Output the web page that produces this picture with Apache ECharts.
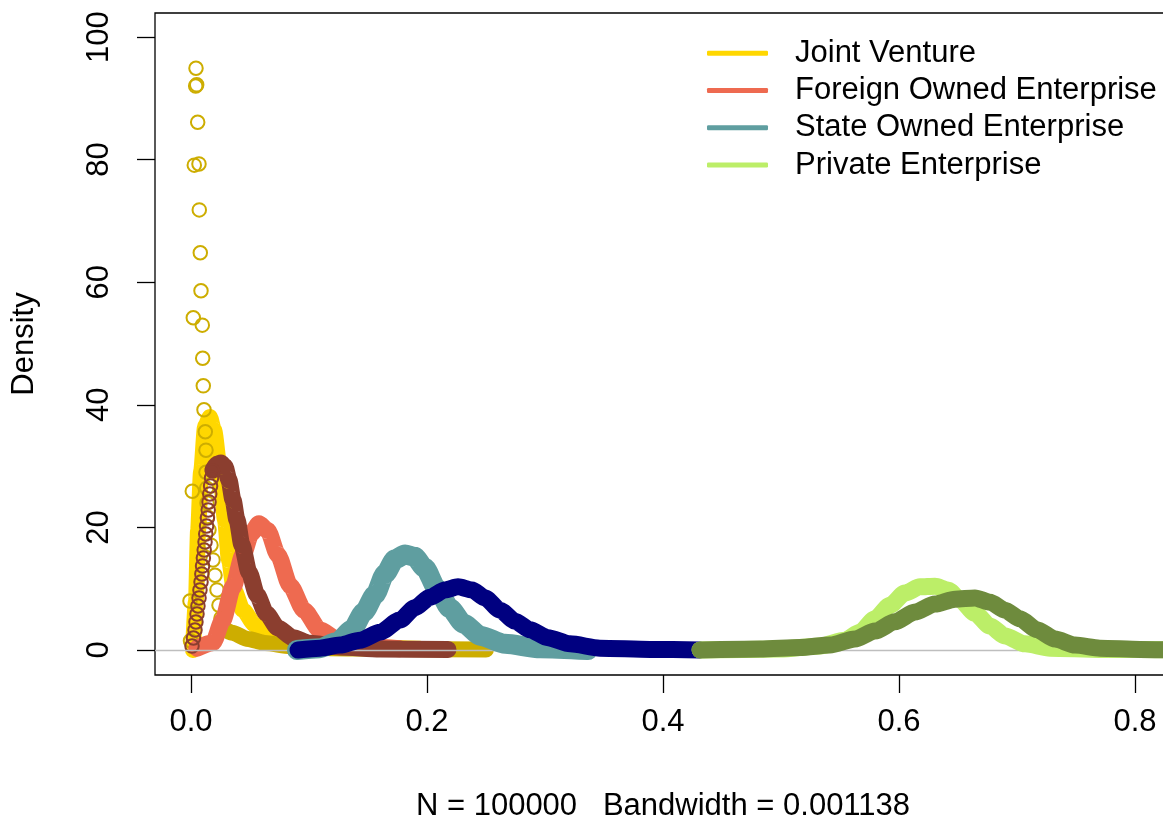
<!DOCTYPE html>
<html>
<head>
<meta charset="utf-8">
<script src="https://cdn.jsdelivr.net/npm/echarts@6/dist/echarts.min.js"></script>
<style>
html,body{margin:0;padding:0;background:#fff;}
#chart{width:1163px;height:819px;}
</style>
</head>
<body>
<div id="chart"></div>
<script>
// ---- data (x, density) ----
const xTicks = [0, 0.2, 0.4, 0.6, 0.8];
const yTicks = [0, 20, 40, 60, 80, 100];
const legendNames = ['Joint Venture', 'Foreign Owned Enterprise', 'State Owned Enterprise', 'Private Enterprise'];
const xLabel = 'N = 100000   Bandwidth = 0.001138';
const yLabel = 'Density';

const jointVenture = [[0.0017,0],[0.0042,8],[0.006,19.5],[0.0085,29],[0.012,36.5],[0.016,38],[0.0195,35.9],[0.0246,29.4],[0.0288,21.2],[0.0322,14.7],[0.0364,9.8],[0.0441,6.5],[0.0542,4.1],[0.0669,2.4],[0.0924,1.1],[0.135,0.5],[0.194,0.2]];
const jvPointsRings = [[0.00424,94.9],[0.00398,92.0],[0.00483,92.2],[0.00568,86.1],[0.0028,79.1],[0.00678,79.3],[0.00703,71.8],[0.00788,64.8],[0.00847,58.6],[0.00195,54.2],[0.00958,53.0],[0.00992,47.6],[0.01042,43.1],[0.01102,39.2],[0.01212,35.6],[0.01271,32.6],[0.01271,29.0],[0.0133,26.4],[0.0011,25.9],[0.01356,24.0],[0.01398,21.7],[0.01525,19.6],[0.01695,17.1],[0.01864,14.7],[0.02034,12.2],[0.02203,9.8],[0.02373,7.3],[0.02542,5.2],[-0.00085,8.0],[-0.00042,1.5]];
const jvPointsBand = [[0.0263,3.75],[0.0347,2.8],[0.0483,1.8],[0.0627,1.15],[0.0839,0.65],[0.118,0.3],[0.177,0.15],[0.25,0.08]];
const foreignOwned = [[0.005,0.3],[0.0186,1.2],[0.027,4.9],[0.0356,10.3],[0.044,15.5],[0.051,19.0],[0.0576,20.6],[0.065,19.5],[0.0737,15.5],[0.084,10.5],[0.0958,6.5],[0.109,3.3],[0.126,1.5],[0.152,0.5],[0.177,0.2]];
const foPointsRings = [[0.00085,0.65],[0.0021,1.96],[0.0034,3.26],[0.0042,4.57],[0.0051,5.87],[0.0059,7.18],[0.0068,8.48],[0.0076,9.79],[0.0085,11.09],[0.0092,12.4],[0.0098,13.7],[0.0105,15.01],[0.0112,16.31],[0.0119,17.62],[0.0125,18.92],[0.0132,20.23],[0.0139,21.53],[0.0146,22.84],[0.0153,24.14],[0.0159,25.45],[0.0166,26.75],[0.0174,28.06],[0.0182,29.2]];
const foPointsBand = [[0.0186,29.4],[0.022,30.3],[0.0254,30.5],[0.0288,29.9],[0.0322,27.7],[0.0356,24.5],[0.039,21.2],[0.0432,17.1],[0.0492,12.7],[0.0559,9.0],[0.0636,6.0],[0.0737,3.6],[0.0864,2.0],[0.1008,1.1],[0.1263,0.5],[0.1602,0.15],[0.2178,0.08]];
const stateOwned = [[0.0898,0],[0.1093,0.3],[0.1237,1.3],[0.1364,3.3],[0.1466,6.2],[0.1559,9.0],[0.1644,12.4],[0.1729,14.8],[0.1814,15.6],[0.1895,15.2],[0.198,13.4],[0.2085,10.0],[0.2195,6.8],[0.231,4.3],[0.2455,2.3],[0.2661,1.0],[0.2958,0.3],[0.3364,0]];
const soPointsBand = [[0.0907,0],[0.1093,0.3],[0.1263,0.8],[0.1432,1.6],[0.1602,2.9],[0.1771,4.9],[0.1898,6.9],[0.2025,8.6],[0.2153,9.8],[0.2263,10.3],[0.2381,9.8],[0.2492,8.5],[0.2619,6.5],[0.2746,4.7],[0.2873,3.3],[0.3025,2.0],[0.3212,1.0],[0.3466,0.3],[0.389,0.1],[0.4314,0]];
const privateEnt = [[0.4314,0],[0.4992,0.15],[0.533,0.65],[0.5542,1.6],[0.5669,2.9],[0.5797,5.1],[0.5924,7.3],[0.6051,9.3],[0.6178,10.3],[0.6305,10.4],[0.6415,9.8],[0.6517,8.2],[0.6644,6.0],[0.6771,3.9],[0.6898,2.3],[0.7068,1.0],[0.728,0.3],[0.77,0.1],[0.838,0]];
const pePointsBand = [[0.4314,0],[0.4822,0.15],[0.516,0.4],[0.5415,0.8],[0.5627,1.8],[0.5797,3.1],[0.5966,4.6],[0.6136,6.2],[0.6305,7.5],[0.6475,8.3],[0.6644,8.5],[0.6771,7.8],[0.6898,6.5],[0.7025,5.1],[0.7169,3.3],[0.7322,1.8],[0.7492,0.8],[0.7703,0.3],[0.8042,0.1],[0.838,0]];

const colors = {
  gold: '#FFD700', gold3: '#CDAD00',
  coral: '#EE6A50', brown: '#8B3E2F',
  teal: '#5F9EA0', navy: '#000080',
  lightgreen: '#BCEE68', olive: '#6E8B3D'
};

const FONT = 'Liberation Sans, Arial, Helvetica, sans-serif';
const X_MIN = -0.0305, X_MAX = 0.8305, Y_MIN = -4.078, Y_MAX = 103.92;

function lineSeries(name, data, color, width, z) {
  return {
    name: name, type: 'line', data: data, showSymbol: false, smooth: 0.25,
    smoothMonotone: 'x', z: z, silent: true,
    itemStyle: {color: color},
    lineStyle: {color: color, width: width, cap: 'round', join: 'round'},
    emphasis: {disabled: true}
  };
}
function ringSeries(name, data, color, z) {
  return {
    name: name, type: 'scatter', data: data, symbol: 'circle', symbolSize: 13.5, z: z, silent: true,
    itemStyle: {color: 'rgba(0,0,0,0)', borderColor: color, borderWidth: 2, opacity: 1},
    emphasis: {disabled: true}
  };
}

const chart = echarts.init(document.getElementById('chart'), null, {renderer: 'canvas'});
chart.setOption({
  animation: false,
  backgroundColor: '#ffffff',
  grid: {left: 155, top: 13, width: 1180 * (X_MAX - X_MIN), height: 662, show: true,
    borderColor: '#000', borderWidth: 1.3, backgroundColor: 'transparent',
    containLabel: false, outerBoundsMode: 'none'},
  xAxis: {
    type: 'value', min: X_MIN, max: X_MAX,
    axisLine: {show: false, onZero: false},
    splitLine: {show: false},
    axisTick: {show: true, customValues: xTicks, length: 18, lineStyle: {color: '#000', width: 1.3}},
    axisLabel: {customValues: xTicks, formatter: v => v.toFixed(1), fontSize: 31, fontFamily: FONT, color: '#000', margin: 32},
    name: xLabel, nameLocation: 'middle', nameGap: 116,
    nameTextStyle: {fontSize: 31, fontFamily: FONT, color: '#000'}
  },
  yAxis: {
    type: 'value', min: Y_MIN, max: Y_MAX,
    axisLine: {show: false, onZero: false},
    splitLine: {show: false},
    axisTick: {show: true, customValues: yTicks, length: 18, lineStyle: {color: '#000', width: 1.3}},
    axisLabel: {customValues: yTicks, rotate: 90, fontSize: 31, fontFamily: FONT, color: '#000', margin: 40},
    name: yLabel, nameLocation: 'middle', nameGap: 115, nameRotate: 90,
    nameTextStyle: {fontSize: 31, fontFamily: FONT, color: '#000'}
  },
  legend: {
    data: legendNames, orient: 'vertical', left: 707, top: 34.5, padding: 0,
    itemWidth: 61, itemHeight: 5, itemGap: 0, icon: 'roundRect',
    selectedMode: false,
    textStyle: {fontSize: 31, fontFamily: FONT, color: '#000', lineHeight: 37.3, padding: [0, 0, 0, 22]}
  },
  series: [
    {
      name: 'zero', type: 'line', data: [], silent: true, z: 0,
      markLine: {silent: true, symbol: ['none', 'none'], label: {show: false},
        lineStyle: {color: '#BEBEBE', width: 1.3, type: 'solid'}, data: [{yAxis: 0}], animation: false}
    },
    lineSeries('Joint Venture', jointVenture, colors.gold, 16, 1),
    ringSeries('JV points', jvPointsRings, colors.gold3, 2),
    lineSeries('JV points band', jvPointsBand, colors.gold3, 16, 2),
    lineSeries('Foreign Owned Enterprise', foreignOwned, colors.coral, 17, 3),
    ringSeries('FO points', foPointsRings, colors.brown, 4),
    lineSeries('FO points band', foPointsBand, colors.brown, 17, 4),
    lineSeries('State Owned Enterprise', stateOwned, colors.teal, 20, 5),
    lineSeries('SO points band', soPointsBand, colors.navy, 17, 6),
    lineSeries('Private Enterprise', privateEnt, colors.lightgreen, 17, 7),
    lineSeries('PE points band', pePointsBand, colors.olive, 17, 8)
  ]
});
</script>
</body>
</html>
